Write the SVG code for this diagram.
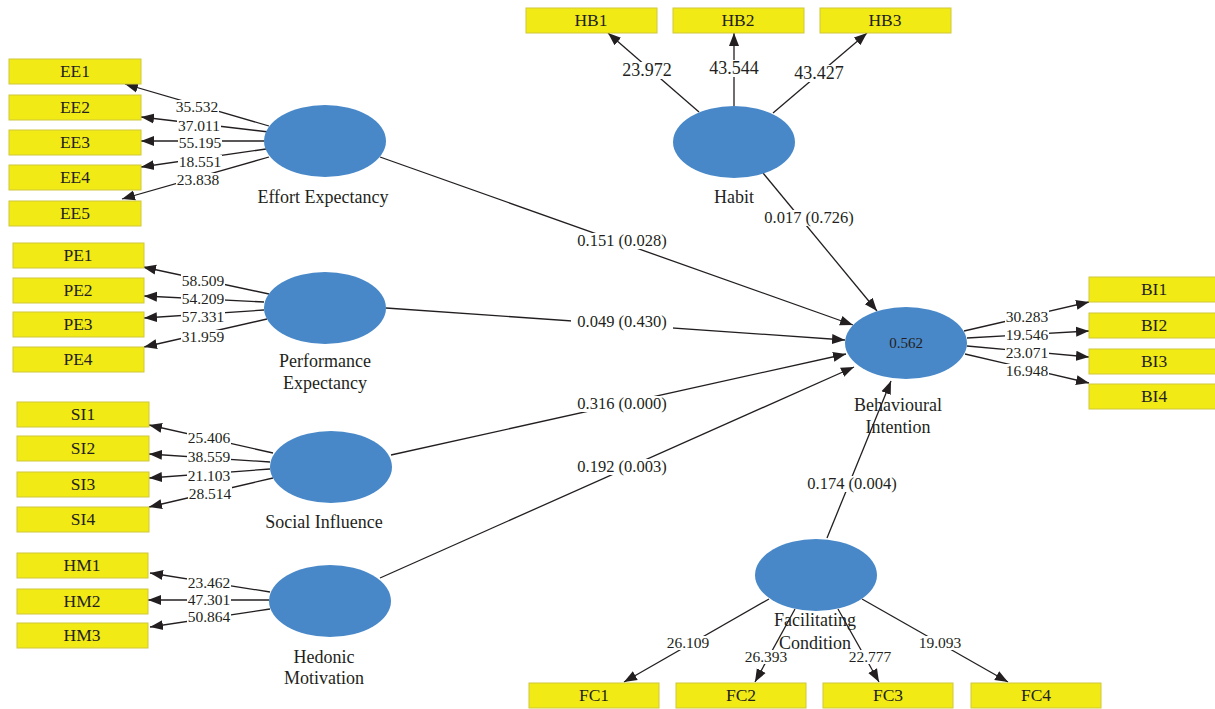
<svg xmlns="http://www.w3.org/2000/svg" width="1215" height="709" viewBox="0 0 1215 709">
<style>
.box{fill:#F2EA14;stroke:#CFC83A;stroke-width:1}
.lv{fill:#4888C8}
.bt{font-family:"Liberation Serif",serif;font-size:17.5px;fill:#231F20;text-anchor:middle}
.nt{font-family:"Liberation Serif",serif;font-size:18px;fill:#231F20;text-anchor:middle}
.ln{stroke:#231F20;stroke-width:1.3;fill:none;marker-end:url(#ah)}
.bg{fill:#fff}
.lb{font-family:"Liberation Serif",serif;font-size:15.5px;fill:#231F20;text-anchor:middle}
.lb17{font-size:18px}
.pl{font-size:16.5px}
</style>
<defs>
<marker id="ah" markerUnits="userSpaceOnUse" markerWidth="14" markerHeight="12" viewBox="0 0 14 12" refX="13" refY="6" orient="auto">
<path d="M0,1 L13,6 L0,11 Z" fill="#231F20"/>
</marker>
</defs>
<g id="connectors">
<line class="ln" x1="269" y1="126" x2="125" y2="84"/>
<line class="ln" x1="269" y1="132" x2="141" y2="117"/>
<line class="ln" x1="264" y1="141" x2="141" y2="141"/>
<line class="ln" x1="266" y1="149" x2="141" y2="167"/>
<line class="ln" x1="269" y1="157" x2="122" y2="199"/>
<line class="ln" x1="269" y1="294" x2="143" y2="267"/>
<line class="ln" x1="264" y1="302" x2="144" y2="296"/>
<line class="ln" x1="264" y1="310" x2="144" y2="318"/>
<line class="ln" x1="267" y1="319" x2="144" y2="347"/>
<line class="ln" x1="273" y1="453" x2="149" y2="425"/>
<line class="ln" x1="270" y1="462" x2="149" y2="454"/>
<line class="ln" x1="270" y1="469" x2="149" y2="478"/>
<line class="ln" x1="273" y1="478" x2="149" y2="507"/>
<line class="ln" x1="270" y1="592" x2="150" y2="573"/>
<line class="ln" x1="269" y1="600" x2="148" y2="600"/>
<line class="ln" x1="270" y1="609" x2="150" y2="627"/>
<line class="ln" x1="699" y1="112" x2="608" y2="33"/>
<line class="ln" x1="734" y1="106" x2="734" y2="33"/>
<line class="ln" x1="773" y1="113" x2="867" y2="33"/>
<line class="ln" x1="964" y1="331" x2="1089" y2="302"/>
<line class="ln" x1="967" y1="338" x2="1089" y2="331"/>
<line class="ln" x1="967" y1="346" x2="1089" y2="357"/>
<line class="ln" x1="965" y1="354" x2="1089" y2="383"/>
<line class="ln" x1="769" y1="599" x2="624" y2="682"/>
<line class="ln" x1="795" y1="609" x2="755" y2="682"/>
<line class="ln" x1="838" y1="609" x2="879" y2="682"/>
<line class="ln" x1="862" y1="599" x2="1008" y2="682"/>
<line class="ln" x1="380" y1="157" x2="853" y2="325"/>
<line class="ln" x1="386" y1="308" x2="845" y2="340"/>
<line class="ln" x1="391" y1="455" x2="846" y2="354"/>
<line class="ln" x1="380" y1="578" x2="854" y2="367"/>
<line class="ln" x1="763" y1="173" x2="877" y2="311"/>
<line class="ln" x1="827" y1="538" x2="891" y2="381"/>
<g id="label-bg">
<rect class="bg" x="175" y="100" width="44" height="14"/>
<rect class="bg" x="177" y="119" width="44" height="14"/>
<rect class="bg" x="178" y="136" width="44" height="14"/>
<rect class="bg" x="178" y="155" width="44" height="14"/>
<rect class="bg" x="176" y="173" width="44" height="14"/>
<rect class="bg" x="181" y="274" width="44" height="14"/>
<rect class="bg" x="181" y="292" width="44" height="14"/>
<rect class="bg" x="181" y="310" width="44" height="14"/>
<rect class="bg" x="181" y="330" width="44" height="14"/>
<rect class="bg" x="187" y="431" width="44" height="14"/>
<rect class="bg" x="187" y="450" width="44" height="14"/>
<rect class="bg" x="187" y="469" width="44" height="14"/>
<rect class="bg" x="188" y="487" width="44" height="14"/>
<rect class="bg" x="187" y="576" width="44" height="14"/>
<rect class="bg" x="187" y="593" width="44" height="14"/>
<rect class="bg" x="187" y="610" width="44" height="14"/>
<rect class="bg" x="621" y="62" width="52" height="17"/>
<rect class="bg" x="708" y="60" width="52" height="17"/>
<rect class="bg" x="793" y="65" width="52" height="17"/>
<rect class="bg" x="1005" y="310" width="44" height="14"/>
<rect class="bg" x="1005" y="328" width="44" height="14"/>
<rect class="bg" x="1005" y="346" width="44" height="14"/>
<rect class="bg" x="1005" y="364" width="44" height="14"/>
<rect class="bg" x="666" y="636" width="44" height="14"/>
<rect class="bg" x="744" y="650" width="44" height="14"/>
<rect class="bg" x="848" y="650" width="44" height="14"/>
<rect class="bg" x="918" y="636" width="44" height="14"/>
<rect class="bg" x="571" y="233" width="102" height="16"/>
<rect class="bg" x="571" y="314" width="102" height="16"/>
<rect class="bg" x="571" y="396" width="102" height="16"/>
<rect class="bg" x="571" y="459" width="102" height="16"/>
<rect class="bg" x="758" y="210" width="102" height="16"/>
<rect class="bg" x="801" y="476" width="102" height="16"/>
</g>
<text class="lb" x="197" y="112">35.532</text>
<text class="lb" x="199" y="131">37.011</text>
<text class="lb" x="200" y="148">55.195</text>
<text class="lb" x="200" y="167">18.551</text>
<text class="lb" x="198" y="185">23.838</text>
<text class="lb" x="203" y="286">58.509</text>
<text class="lb" x="203" y="304">54.209</text>
<text class="lb" x="203" y="322">57.331</text>
<text class="lb" x="203" y="342">31.959</text>
<text class="lb" x="209" y="443">25.406</text>
<text class="lb" x="209" y="462">38.559</text>
<text class="lb" x="209" y="481">21.103</text>
<text class="lb" x="210" y="499">28.514</text>
<text class="lb" x="209" y="588">23.462</text>
<text class="lb" x="209" y="605">47.301</text>
<text class="lb" x="209" y="622">50.864</text>
<text class="lb lb17" x="647" y="76">23.972</text>
<text class="lb lb17" x="734" y="74">43.544</text>
<text class="lb lb17" x="819" y="79">43.427</text>
<text class="lb" x="1027" y="322">30.283</text>
<text class="lb" x="1027" y="340">19.546</text>
<text class="lb" x="1027" y="358">23.071</text>
<text class="lb" x="1027" y="376">16.948</text>
<text class="lb" x="688" y="648">26.109</text>
<text class="lb" x="766" y="662">26.393</text>
<text class="lb" x="870" y="662">22.777</text>
<text class="lb" x="940" y="648">19.093</text>
<text class="lb pl" x="622" y="246">0.151 (0.028)</text>
<text class="lb pl" x="622" y="327">0.049 (0.430)</text>
<text class="lb pl" x="622" y="409">0.316 (0.000)</text>
<text class="lb pl" x="622" y="472">0.192 (0.003)</text>
<text class="lb pl" x="809" y="223">0.017 (0.726)</text>
<text class="lb pl" x="852" y="489">0.174 (0.004)</text>
</g>
<g id="EE">
<ellipse class="lv" cx="325" cy="141" rx="61" ry="36"/>
<text class="nt" x="323" y="203">Effort Expectancy</text>
</g>
<g id="PE">
<ellipse class="lv" cx="325" cy="308" rx="61" ry="36"/>
<text class="nt" x="325" y="367">Performance</text>
<text class="nt" x="325" y="389">Expectancy</text>
</g>
<g id="SI">
<ellipse class="lv" cx="331" cy="467" rx="61" ry="36"/>
<text class="nt" x="324" y="528">Social Influence</text>
</g>
<g id="HM">
<ellipse class="lv" cx="330" cy="601" rx="61" ry="36"/>
<text class="nt" x="324" y="663">Hedonic</text>
<text class="nt" x="324" y="684">Motivation</text>
</g>
<g id="HB">
<ellipse class="lv" cx="734" cy="142" rx="61" ry="36"/>
<text class="nt" x="734" y="203">Habit</text>
</g>
<g id="BI">
<ellipse class="lv" cx="906" cy="343" rx="61" ry="36"/>
<text class="bt" x="906" y="348" style="font-size:15px">0.562</text>
<text class="nt" x="898" y="411">Behavioural</text>
<text class="nt" x="898" y="433">Intention</text>
</g>
<g id="FC">
<ellipse class="lv" cx="816" cy="575" rx="61" ry="36"/>
<text class="nt" x="815" y="626">Facilitating</text>
<text class="nt" x="815" y="649">Condition</text>
</g>
<g id="EE1"><rect class="box" x="9" y="59" width="132" height="25"/><text class="bt" x="75" y="77">EE1</text></g>
<g id="EE2"><rect class="box" x="9" y="95" width="132" height="25"/><text class="bt" x="75" y="113">EE2</text></g>
<g id="EE3"><rect class="box" x="9" y="130" width="132" height="25"/><text class="bt" x="75" y="148">EE3</text></g>
<g id="EE4"><rect class="box" x="9" y="165" width="132" height="25"/><text class="bt" x="75" y="183">EE4</text></g>
<g id="EE5"><rect class="box" x="9" y="201" width="132" height="25"/><text class="bt" x="75" y="219">EE5</text></g>
<g id="PE1"><rect class="box" x="13" y="243" width="131" height="25"/><text class="bt" x="78" y="261">PE1</text></g>
<g id="PE2"><rect class="box" x="13" y="278" width="131" height="25"/><text class="bt" x="78" y="296">PE2</text></g>
<g id="PE3"><rect class="box" x="13" y="312" width="131" height="25"/><text class="bt" x="78" y="330">PE3</text></g>
<g id="PE4"><rect class="box" x="13" y="347" width="131" height="25"/><text class="bt" x="78" y="365">PE4</text></g>
<g id="SI1"><rect class="box" x="17" y="402" width="132" height="25"/><text class="bt" x="83" y="420">SI1</text></g>
<g id="SI2"><rect class="box" x="17" y="436" width="132" height="25"/><text class="bt" x="83" y="454">SI2</text></g>
<g id="SI3"><rect class="box" x="17" y="472" width="132" height="25"/><text class="bt" x="83" y="490">SI3</text></g>
<g id="SI4"><rect class="box" x="17" y="507" width="132" height="25"/><text class="bt" x="83" y="525">SI4</text></g>
<g id="HM1"><rect class="box" x="17" y="553" width="131" height="25"/><text class="bt" x="82" y="571">HM1</text></g>
<g id="HM2"><rect class="box" x="17" y="589" width="131" height="25"/><text class="bt" x="82" y="607">HM2</text></g>
<g id="HM3"><rect class="box" x="17" y="623" width="131" height="25"/><text class="bt" x="82" y="641">HM3</text></g>
<g id="HB1"><rect class="box" x="526" y="8" width="131" height="25"/><text class="bt" x="591" y="26">HB1</text></g>
<g id="HB2"><rect class="box" x="673" y="8" width="131" height="25"/><text class="bt" x="738" y="26">HB2</text></g>
<g id="HB3"><rect class="box" x="820" y="8" width="131" height="25"/><text class="bt" x="885" y="26">HB3</text></g>
<g id="BI1"><rect class="box" x="1089" y="277" width="130" height="25"/><text class="bt" x="1154" y="295">BI1</text></g>
<g id="BI2"><rect class="box" x="1089" y="313" width="130" height="25"/><text class="bt" x="1154" y="331">BI2</text></g>
<g id="BI3"><rect class="box" x="1089" y="349" width="130" height="25"/><text class="bt" x="1154" y="367">BI3</text></g>
<g id="BI4"><rect class="box" x="1089" y="384" width="130" height="25"/><text class="bt" x="1154" y="402">BI4</text></g>
<g id="FC1"><rect class="box" x="529" y="683" width="130" height="25"/><text class="bt" x="594" y="701">FC1</text></g>
<g id="FC2"><rect class="box" x="676" y="683" width="130" height="25"/><text class="bt" x="741" y="701">FC2</text></g>
<g id="FC3"><rect class="box" x="823" y="683" width="130" height="25"/><text class="bt" x="888" y="701">FC3</text></g>
<g id="FC4"><rect class="box" x="971" y="683" width="130" height="25"/><text class="bt" x="1036" y="701">FC4</text></g>
</svg>
